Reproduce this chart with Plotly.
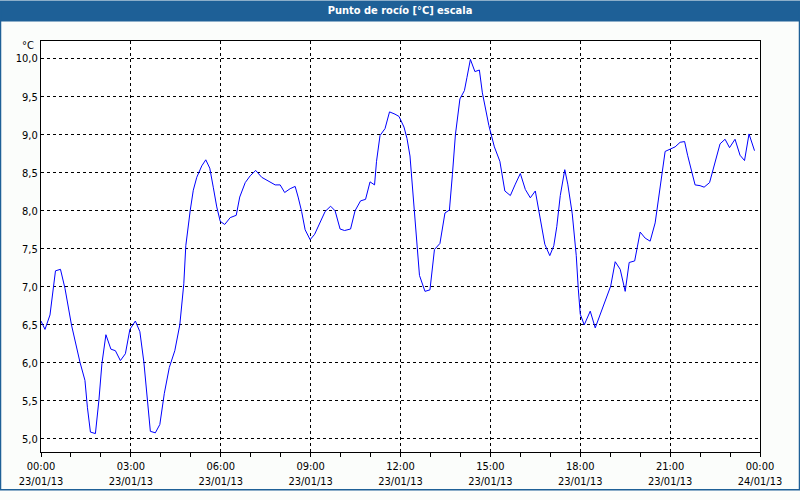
import plotly.graph_objects as go
import pandas as pd

# ---- data ----
minutes = [0, 8, 18, 25, 29, 39, 48, 61, 78, 88, 93, 99, 109, 116, 122, 130, 140, 149, 159, 169,
           178, 189, 198, 206, 213, 219, 229, 238, 247, 257, 268, 278, 286, 290, 299, 305, 312, 322,
           330, 338, 345, 352, 359, 368, 379, 391, 398, 409, 419, 430, 442, 455, 469, 479, 488, 499,
           509, 515, 522, 529, 539, 548, 559, 569, 580, 589, 599, 608, 620, 629, 640, 650, 659, 668,
           672, 679, 689, 698, 709, 717, 727, 733, 739, 744, 749, 753, 758, 769, 779, 788, 799, 809,
           818, 824, 830, 839, 848, 853, 860, 869, 878, 884, 889, 897, 908, 919, 929, 940, 950, 960,
           970, 980, 990, 998, 1009, 1019, 1027, 1033, 1040, 1049, 1055, 1064, 1072, 1076, 1080,
           1088, 1100, 1110, 1120, 1130, 1141, 1150, 1160, 1170, 1178, 1189, 1200, 1210, 1220, 1230,
           1235, 1240, 1246, 1250, 1260, 1270, 1280, 1289, 1295, 1302, 1310, 1320, 1328, 1339, 1349,
           1360, 1370, 1379, 1390, 1400, 1409, 1418, 1429]
dew_point = [6.55, 6.44, 6.63, 7.00, 7.21, 7.23, 6.98, 6.50, 6.01, 5.77, 5.41, 5.09, 5.07, 5.51, 5.99,
             6.37, 6.18, 6.16, 6.03, 6.12, 6.44, 6.55, 6.41, 6.01, 5.51, 5.10, 5.08, 5.19, 5.60, 5.94,
             6.16, 6.50, 7.04, 7.54, 8.01, 8.27, 8.44, 8.59, 8.67, 8.56, 8.31, 8.05, 7.86, 7.82, 7.91,
             7.94, 8.18, 8.37, 8.46, 8.53, 8.44, 8.39, 8.34, 8.34, 8.24, 8.29, 8.32, 8.18, 7.99, 7.75,
             7.62, 7.69, 7.86, 7.99, 8.06, 8.00, 7.76, 7.74, 7.76, 8.00, 8.13, 8.15, 8.38, 8.34, 8.65,
             8.99, 9.08, 9.30, 9.27, 9.24, 9.10, 8.95, 8.72, 8.31, 7.97, 7.58, 7.15, 6.94, 6.96, 7.49,
             7.57, 7.97, 8.01, 8.48, 9.00, 9.47, 9.58, 9.75, 9.99, 9.83, 9.85, 9.55, 9.38, 9.12, 8.84,
             8.65, 8.26, 8.20, 8.35, 8.49, 8.28, 8.17, 8.26, 7.96, 7.56, 7.41, 7.54, 7.79, 8.20, 8.54,
             8.35, 7.96, 7.41, 6.98, 6.64, 6.50, 6.68, 6.46, 6.64, 6.82, 7.01, 7.33, 7.23, 6.94, 7.32,
             7.34, 7.72, 7.64, 7.60, 7.84, 8.09, 8.35, 8.61, 8.78, 8.81, 8.84, 8.90, 8.91, 8.73, 8.54,
             8.34, 8.33, 8.31, 8.37, 8.63, 8.88, 8.94, 8.83, 8.94, 8.73, 8.66, 9.01, 8.79]

x_tick_times = ["2013-01-23 00:00", "2013-01-23 03:00", "2013-01-23 06:00", "2013-01-23 09:00",
                "2013-01-23 12:00", "2013-01-23 15:00", "2013-01-23 18:00", "2013-01-23 21:00",
                "2013-01-24 00:00"]
x_tick_labels = ["00:00<br>23/01/13", "03:00<br>23/01/13", "06:00<br>23/01/13", "09:00<br>23/01/13",
                 "12:00<br>23/01/13", "15:00<br>23/01/13", "18:00<br>23/01/13", "21:00<br>23/01/13",
                 "00:00<br>24/01/13"]
y_tick_values = [5.0, 5.5, 6.0, 6.5, 7.0, 7.5, 8.0, 8.5, 9.0, 9.5, 10.0]
y_tick_labels = ["5,0", "5,5", "6,0", "6,5", "7,0", "7,5", "8,0", "8,5", "9,0", "9,5", "10,0"]
title_text = "Punto de rocío [°C] escala"
unit_text = "°C"

# ---- layout geometry ----
W, H = 800, 500
L, R, T, B = 41, 40, 41, 39
PW, PH = W - L - R, H - T - B
BLUE = "#1e6097"
FONT = "DejaVu Sans Condensed, Liberation Sans, sans-serif"


def px_x(px):
    return (px - L) / PW


def px_y(py):
    return (H - B - py) / PH


times = pd.Timestamp("2013-01-23") + pd.to_timedelta(minutes, unit="m")

fig = go.Figure()
fig.add_trace(go.Scatter(x=times, y=dew_point, mode="lines",
                         line=dict(color="#0000ff", width=1), hoverinfo="skip"))

fig.update_layout(
    width=W, height=H,
    margin=dict(l=L, r=R, t=T, b=B, pad=0),
    paper_bgcolor="#fbfdfb",
    plot_bgcolor="white",
    showlegend=False,
    font=dict(family=FONT, size=11, color="#000000"),
    title=dict(text="<b>" + title_text + "</b>", x=0.5, xref="container", xanchor="center",
               y=1 - 10.5 / H, yref="container", yanchor="middle",
               font=dict(family=FONT, size=11, color="white")),
    xaxis=dict(
        type="date",
        range=["2013-01-23 00:00", "2013-01-24 00:00"],
        tickmode="array", tickvals=x_tick_times, ticktext=x_tick_labels,
        ticks="outside", ticklen=4, tickcolor="black", tickwidth=1,
        showgrid=True, gridcolor="black", griddash="3px,3px", gridwidth=1,
        showline=True, linecolor="black", linewidth=1, mirror=True,
        zeroline=False,
        minor=dict(tickmode="linear", tick0="2013-01-23", dtick=3600000, ticks="outside",
                   ticklen=4, tickcolor="black", showgrid=False),
        tickfont=dict(family=FONT, size=11, color="#000000"),
    ),
    yaxis=dict(
        range=[4.828, 10.232],
        tickmode="array", tickvals=y_tick_values, ticktext=y_tick_labels,
        ticks="", showgrid=True, gridcolor="black", griddash="3px,3px", gridwidth=1,
        showline=True, linecolor="black", linewidth=1, mirror=True,
        zeroline=False,
        tickfont=dict(family=FONT, size=11, color="#000000"),
    ),
    shapes=[
        dict(type="rect", xref="paper", yref="paper", x0=px_x(0), x1=px_x(W), y0=px_y(21), y1=px_y(0),
             fillcolor=BLUE, line=dict(width=0), layer="below"),
        dict(type="rect", xref="paper", yref="paper", x0=px_x(0.5), x1=px_x(W - 0.5),
             y0=px_y(H - 0.5), y1=px_y(0.5), line=dict(color=BLUE, width=1.5), layer="above"),
    ],
    annotations=[
        dict(text=unit_text, xref="paper", yref="paper", x=px_x(36), y=px_y(46),
             xanchor="right", yanchor="middle", showarrow=False,
             font=dict(family=FONT, size=11, color="#000000")),
    ],
)

fig.write_html("out.html", config={"displayModeBar": False},
               post_script="document.body.style.margin='0px';document.body.style.overflow='hidden';")
